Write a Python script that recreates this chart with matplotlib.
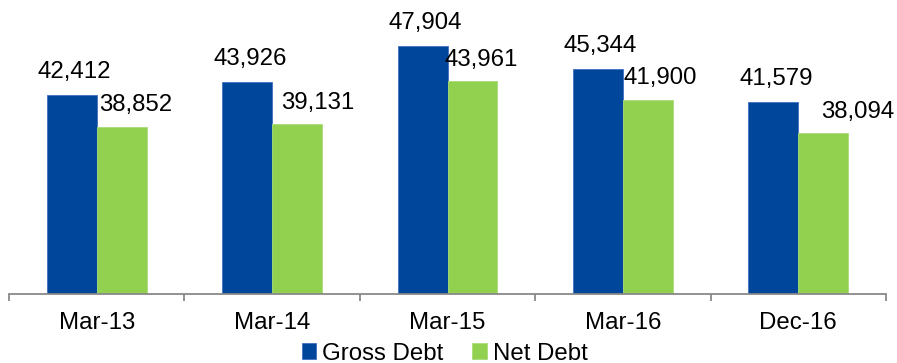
import numpy as np
import matplotlib.pyplot as plt

plt.rcParams['font.family'] = ['Liberation Sans', 'DejaVu Sans']

periods = ["Mar-13", "Mar-14", "Mar-15", "Mar-16", "Dec-16"]
gross_debt = [42412, 43926, 47904, 45344, 41579]
net_debt = [38852, 39131, 43961, 41900, 38094]

blue = "#00479C"
green = "#92D050"

# horizontal nudges (px) for the net debt labels
net_dx = [14, 21, 9, 12, 34]

fig = plt.figure(figsize=(8.97, 3.63), dpi=100)
ax = fig.add_axes([9 / 897, 69.5 / 363, 877 / 897, 293.5 / 363])

x = np.arange(len(periods))
w = 0.285
b1 = ax.bar(x - w / 2, gross_debt, w, color=blue, edgecolor="#3F6FC0", linewidth=0.6, label="Gross Debt")
b2 = ax.bar(x + w / 2, net_debt, w, color=green, edgecolor="#A8DC78", linewidth=0.6, label="Net Debt")

ax.set_xlim(-0.5, len(periods) - 0.5)
ax.set_ylim(20000, 53140)

for rect, v in zip(b1, gross_debt):
    ax.annotate(f"{v:,}", (rect.get_x() + rect.get_width() / 2, v),
                xytext=(2, 12.2), textcoords="offset points",
                ha="center", va="baseline", fontsize=17.3)
for rect, v, dx in zip(b2, net_debt, net_dx):
    ax.annotate(f"{v:,}", (rect.get_x() + rect.get_width() / 2, v),
                xytext=(dx * 0.72, 11.2), textcoords="offset points",
                ha="center", va="baseline", fontsize=17.3)

for s in ["top", "right", "left"]:
    ax.spines[s].set_visible(False)
ax.spines["bottom"].set_color("#898989")
ax.spines["bottom"].set_linewidth(1.3)
ax.set_yticks([])
ax.set_xticks(x)
ax.set_xticklabels(periods, fontsize=17.3)
ax.set_xticks(np.arange(-0.5, len(periods)), minor=True)
ax.tick_params(axis="x", which="major", length=0, pad=13.5)
ax.tick_params(axis="x", which="minor", length=5, width=1.3, color="#898989")

fig.legend(loc="upper center", bbox_to_anchor=(0.4955, 1 - 342.5 / 363), ncol=2,
           frameon=False, fontsize=17.3, handlelength=0.6, handleheight=0.6,
           handletextpad=0.25, columnspacing=1.2, borderpad=0, borderaxespad=0)

fig.savefig("out.png", dpi=100)
